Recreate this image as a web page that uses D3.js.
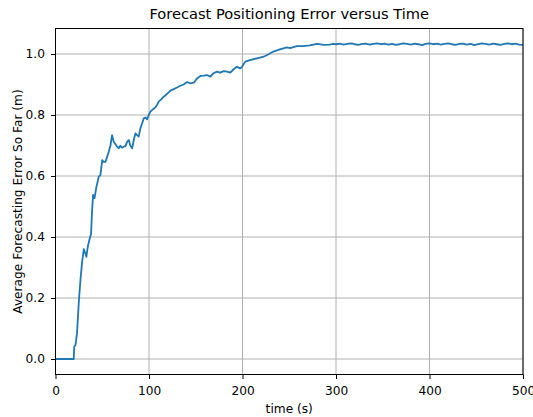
<!DOCTYPE html>
<html><head><meta charset="utf-8">
<script src="https://cdn.jsdelivr.net/npm/d3@7"></script>
<style>body{margin:0;background:#fff}svg{display:block}text{font-family:"DejaVu Sans",sans-serif}</style>
</head><body><svg id="c" width="533" height="417"></svg>
<script>
const title = "Forecast Positioning Error versus Time";
const xLabel = "time (s)";
const yLabel = "Average Forecasting Error So Far (m)";
const xTicks = [0,100,200,300,400,500];
const yTicks = [0.0,0.2,0.4,0.6,0.8,1.0];

const timeEarly = [0,19.5,20,21.4,23,25,26.7,28.5,30.3,32,33,34.5,36.7,38,39.2,40.2,41.7,43.8,46.3,48,50,51.6,53.4,57,58.8,60.5,62.3,64,66,67.7,69.4,71.2,73,74.8,76.6,78.4,80,82,83.7,85.5,87.3,89,90.8,92.6,94.4,96.2,98,99.7,101.5,104.4,106.8,108.6,110.4,113,115.7,119.3,123,126.4,130,133.5,137,140.7,144,148,151.4,155,158.5,162,165.6,169,172.7,176,180,183.4,187,190.5,194,197.7,199.4,203,208,215.5,222.6,228,233,240,247.5,251,258,265,272,279.6,287,293,297];
const errorEarly = [0,0,0.040,0.046,0.084,0.19,0.26,0.32,0.36,0.345,0.335,0.368,0.396,0.41,0.49,0.538,0.527,0.565,0.598,0.603,0.652,0.646,0.646,0.68,0.70,0.734,0.712,0.705,0.696,0.691,0.699,0.693,0.696,0.698,0.712,0.718,0.70,0.691,0.718,0.74,0.734,0.729,0.756,0.772,0.789,0.792,0.786,0.80,0.811,0.819,0.825,0.833,0.844,0.851,0.86,0.869,0.88,0.885,0.89,0.896,0.90,0.908,0.904,0.906,0.92,0.928,0.929,0.931,0.926,0.937,0.942,0.939,0.944,0.942,0.939,0.95,0.958,0.953,0.958,0.975,0.98,0.986,0.991,0.999,1.008,1.015,1.022,1.019,1.026,1.026,1.028,1.033,1.030,1.031,1.033];
const timeLate = [300,304,308,312,316,320,324,328,332,336,340,344,348,352,356,360,364,368,372,376,380,384,388,392,396,400,404,408,412,416,420,424,428,432,436,440,444,448,452,456,460,464,468,472,476,480,484,488,492,496,500];
const errorLate = [1.032,1.034,1.031,1.033,1.035,1.032,1.030,1.033,1.034,1.031,1.033,1.035,1.032,1.034,1.031,1.033,1.030,1.032,1.035,1.033,1.031,1.034,1.032,1.029,1.033,1.035,1.032,1.034,1.031,1.033,1.035,1.032,1.030,1.033,1.034,1.031,1.033,1.029,1.032,1.035,1.033,1.031,1.034,1.032,1.030,1.033,1.035,1.032,1.034,1.031,1.030];

const data = timeEarly.map((t,i)=>({t, v:errorEarly[i]})).concat(timeLate.map((t,i)=>({t, v:errorLate[i]})));

const svg = d3.select("#c");
const L=55.5, R=523, T=28.5, B=374.5;
const x = d3.scaleLinear().domain([0,500]).range([L,R]);
const y = d3.scaleLinear().domain([-0.0508,1.0836]).range([B,T]);
const fs = 12.2;

const g = svg.append("g");
g.selectAll(".gx").data(xTicks).join("line").attr("x1",d=>x(d)).attr("x2",d=>x(d)).attr("y1",T).attr("y2",B).attr("stroke","#b0b0b0").attr("stroke-width",1);
g.selectAll(".gy").data(yTicks).join("line").attr("y1",d=>y(d)).attr("y2",d=>y(d)).attr("x1",L).attr("x2",R).attr("stroke","#b0b0b0").attr("stroke-width",1);

const line = d3.line().x(d=>x(d.t)).y(d=>y(d.v));
svg.append("path").datum(data).attr("d",line).attr("fill","none").attr("stroke","#1f77b4").attr("stroke-width",1.8).attr("stroke-linejoin","round");

const xa = svg.append("g").attr("transform",`translate(0,${B})`).call(d3.axisBottom(x).tickValues(xTicks).tickSize(4.5).tickSizeOuter(0).tickPadding(7));
const ya = svg.append("g").attr("transform",`translate(${L},0)`).call(d3.axisLeft(y).tickValues(yTicks).tickFormat(d3.format(".1f")).tickSize(4.5).tickSizeOuter(0).tickPadding(6));
[xa,ya].forEach(a=>{a.select(".domain").remove();a.selectAll("text").attr("font-size",fs).attr("fill","#000").attr("font-family","DejaVu Sans");a.selectAll("line").attr("stroke","#000").attr("stroke-width",1);});

svg.append("rect").attr("x",L).attr("y",T).attr("width",R-L).attr("height",B-T).attr("fill","none").attr("stroke","#000").attr("stroke-width",1);

svg.append("text").attr("x",(L+R)/2).attr("y",19).attr("text-anchor","middle").attr("font-size",fs*1.2).text(title);
svg.append("text").attr("x",(L+R)/2).attr("y",412.5).attr("text-anchor","middle").attr("font-size",fs).text(xLabel);
svg.append("text").attr("transform",`translate(22,${(T+B)/2}) rotate(-90)`).attr("text-anchor","middle").attr("font-size",fs).text(yLabel);
</script></body></html>
